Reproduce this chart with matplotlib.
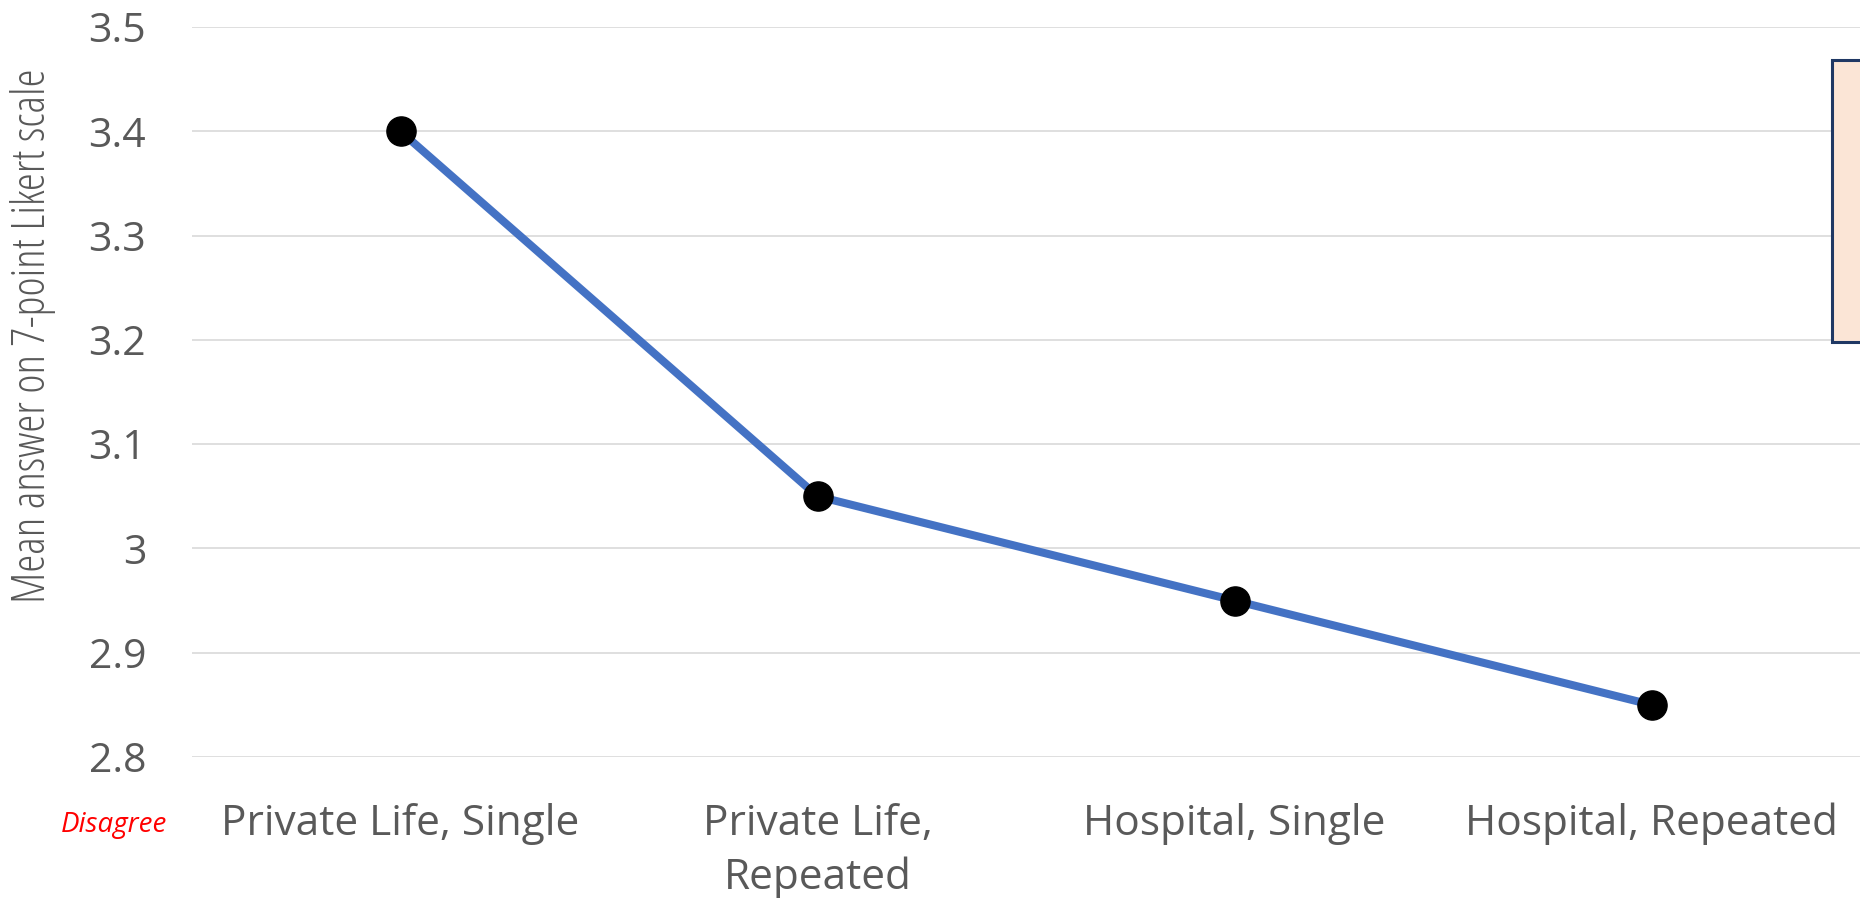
import matplotlib.pyplot as plt
from matplotlib.patches import Rectangle

categories = ["Private Life, Single", "Private Life,\nRepeated", "Hospital, Single", "Hospital, Repeated"]
means = [3.4, 3.05, 2.95, 2.85]
yticks = [2.8, 2.9, 3.0, 3.1, 3.2, 3.3, 3.4, 3.5]
ytick_labels = ["2.8", "2.9", "3", "3.1", "3.2", "3.3", "3.4", "3.5"]

plt.rcParams['font.family'] = ['Open Sans', 'DejaVu Sans']
grey = "#595959"

fig = plt.figure(figsize=(18.6, 8.98), dpi=100)
ax = fig.add_axes([192/1860, 1 - 757/898, 1668/1860, 730/898])

x = list(range(len(categories)))
ax.plot(x, means, color="#4472C4", linewidth=5.8, marker="o", markersize=21,
        markerfacecolor="black", markeredgecolor="black", zorder=3)

ax.set_xlim(-0.5, len(categories) - 0.5)
ax.set_ylim(2.8, 3.5)
ax.set_yticks(yticks)
ax.set_yticklabels(ytick_labels)
ax.set_xticks(x)
ax.set_xticklabels(categories, linespacing=1.35)
ax.tick_params(axis="y", length=0, pad=33, labelsize=29.5, labelcolor=grey)
ax.tick_params(axis="x", length=0, pad=33, labelsize=30.5, labelcolor=grey)
ax.grid(axis="y", color="#D9D9D9", linewidth=1.2)
ax.set_axisbelow(True)
for s in ax.spines.values():
    s.set_visible(False)

fig.text(33/1860, 1 - 336/898, "Mean answer on 7-point Likert scale", rotation=90,
         ha="center", va="center", fontsize=33, color=grey, fontstretch="condensed")
fig.text(114/1860, 1 - 825/898, "Disagree", ha="center", va="center",
         fontsize=20, color="red", style="italic")

# side box, cut off at the right edge
fig.patches.append(Rectangle((1832/1860, 1 - 342/898), 60/1860, 282/898,
                             transform=fig.transFigure, facecolor="#FBE5D6",
                             edgecolor="#1F3864", linewidth=2.2, zorder=5))

fig.savefig("out.png", dpi=100)
